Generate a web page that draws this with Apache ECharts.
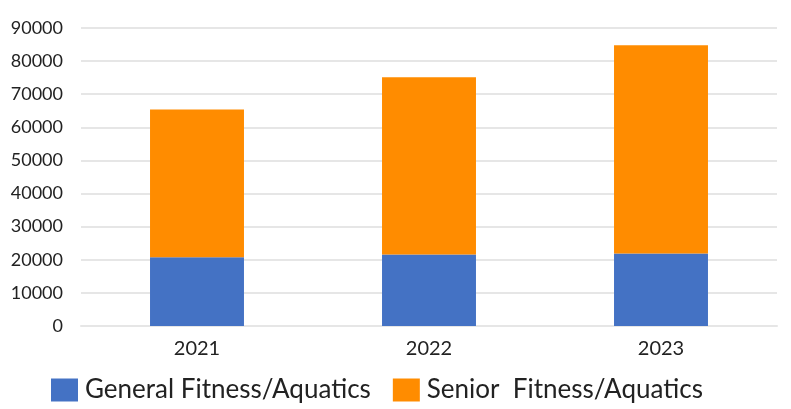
<!DOCTYPE html>
<html>
<head>
<meta charset="utf-8">
<script src="https://cdn.jsdelivr.net/npm/echarts@6/dist/echarts.min.js"></script>
<style>
  html, body { margin: 0; padding: 0; background: #fff; }
  #chart { width: 791px; height: 409px; }
</style>
</head>
<body>
<div id="chart"></div>
<script>
var years = ['2021', '2022', '2023'];
var generalVals = [20800, 21600, 21900];
var seniorVals = [44600, 53500, 62900];
var seriesNames = ['General Fitness/Aquatics', 'Senior  Fitness/Aquatics'];

var chart = echarts.init(document.getElementById('chart'));
var font = 'Lato, "Open Sans", sans-serif';

var option = {
    animation: false,
    textStyle: { fontFamily: font },
    grid: { left: 81, right: 14, top: 28, bottom: 83 },
    legend: {
        left: 51,
        top: 377,
        padding: 0,
        icon: 'rect',
        itemWidth: 27,
        itemHeight: 23,
        itemGap: 22,
        textStyle: { fontSize: 26, color: '#222', fontFamily: font, padding: [0, 0, 0, 2] },
        data: seriesNames
    },
    xAxis: {
        type: 'category',
        data: years,
        axisTick: { show: false },
        axisLine: { lineStyle: { color: '#e6e6e6', width: 2 } },
        axisLabel: { fontSize: 20, color: '#222', margin: 13, fontFamily: font }
    },
    yAxis: {
        type: 'value',
        min: 0,
        max: 90000,
        interval: 10000,
        axisLine: { show: false },
        axisTick: { show: false },
        axisLabel: { fontSize: 18, color: '#222', margin: 18, fontFamily: font,
            formatter: function (v) { return String(v); } },
        splitLine: { lineStyle: { color: '#e6e6e6', width: 2 } }
    },
    series: [
        {
            name: seriesNames[0],
            type: 'bar',
            stack: 'total',
            barWidth: '40.5%',
            itemStyle: { color: '#4472c4' },
            data: generalVals
        },
        {
            name: seriesNames[1],
            type: 'bar',
            stack: 'total',
            barWidth: '40.5%',
            itemStyle: { color: '#ff8c00' },
            data: seniorVals
        }
    ]
};

chart.setOption(option);
</script>
</body>
</html>
